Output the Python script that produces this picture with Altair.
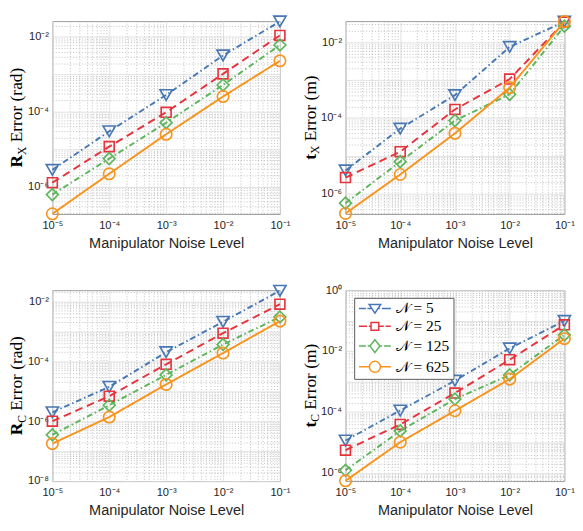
import altair as alt
import pandas as pd

# ---------------- data ----------------
noise = [1e-5, 1e-4, 1e-3, 1e-2, 1e-1]
N_labels = ["5", "25", "125", "625"]

rx_N5 = [2.8e-6, 3.0e-5, 2.8e-4, 3.2e-3, 2.6e-2]
rx_N25 = [1.27e-6, 1.17e-5, 9.7e-5, 1.03e-3, 1.1e-2]
rx_N125 = [6.1e-7, 5.6e-6, 5.1e-5, 5.2e-4, 6.1e-3]
rx_N625 = [1.87e-7, 2.2e-6, 2.5e-5, 2.55e-4, 2.3e-3]

tx_N5 = [4.1e-6, 5.2e-5, 4.0e-4, 7.5e-3, 3.5e-2]
tx_N25 = [2.65e-6, 1.28e-5, 1.67e-4, 1.06e-3, 3.4e-2]
tx_N125 = [5.6e-7, 7.0e-6, 8.5e-5, 4.2e-4, 2.65e-2]
tx_N625 = [3.0e-7, 3.2e-6, 3.9e-5, 6.3e-4, 3.5e-2]

rc_N5 = [1.98e-6, 1.4e-5, 2.0e-4, 2.07e-3, 2.25e-2]
rc_N25 = [1.0e-6, 6.8e-6, 7.9e-5, 8.6e-4, 8.0e-3]
rc_N125 = [3.5e-7, 3.4e-6, 3.5e-5, 3.6e-4, 3.0e-3]
rc_N625 = [1.78e-7, 1.37e-6, 1.68e-5, 1.87e-4, 2.18e-3]

tc_N5 = [1.16e-5, 1.12e-4, 1.07e-3, 1.23e-2, 9.8e-2]
tc_N25 = [5.6e-6, 3.9e-5, 4.2e-4, 5.2e-3, 7.3e-2]
tc_N125 = [1.22e-6, 2.4e-5, 2.65e-4, 1.65e-3, 3.4e-2]
tc_N625 = [5.5e-7, 1.02e-5, 1.1e-4, 1.2e-3, 2.56e-2]

# ---------------- style ----------------
COLORS = ["#4878B4", "#E5343D", "#5DB55A", "#F7941E"]
DASHES = [[6, 3, 1.5, 3], [8, 5], [6, 3, 1.5, 3], [1, 0]]
SHAPES = ["triangle-down", "square", "diamond", "circle"]
SIZES = [160, 105, 150, 140]

# legend symbols: line sample + marker (unit = sqrt(size)/2 = 6px)
LEG_PATHS = [
    "M-1,0H0.2M0.45,0H1.22M2.28,0H2.6M2.95,0H4.5M0.75,-0.7H2.75L1.75,0.8Z",
    "M-1,0H0.4M0.7,0H1.08M2.42,0H3.3M3.6,0H4.5M1.08,-0.67H2.42V0.67H1.08Z",
    "M-1,0H0.2M0.5,0H0.9M2.6,0H3.0M3.3,0H4.5M1.75,-1.1L2.6,0L1.75,1.1L0.9,0Z",
    "M-1,0H0.8M2.7,0H4.5M0.8,0A0.95,0.95 0 1,0 2.7,0A0.95,0.95 0 1,0 0.8,0Z",
]

SANS = "Liberation Sans"
SERIF = "Liberation Serif"
TXT = "#262626"

MAJ = "abs(log(datum.value)/LN10 - round(log(datum.value)/LN10)) < 0.01"
EXP = "round(log(datum.value)/LN10)"
SUP = (f"'10' + ({EXP} < 0 ? '⁻' : '') + "
       f"substring('⁰¹²³⁴⁵⁶⁷⁸⁹', abs({EXP}), abs({EXP}) + 1)")
XLAB = f"({MAJ}) ? {SUP} : ''"
YLAB = f"(({MAJ}) && ({EXP} % 2 == 0)) ? {SUP} : ''"

GRID_DASH = {"condition": {"test": MAJ, "value": [1, 0]}, "value": [1, 2]}
GRID_COLOR = {"condition": {"test": MAJ, "value": "#dddddd"}, "value": "#bdbdbd"}


def log_grid(lo, hi):
    vals = []
    for k in range(-9, 2):
        for m in range(1, 10):
            v = float(f"{m}e{k}")
            if lo * 0.999 <= v <= hi * 1.001:
                vals.append(v)
    return vals


def make_df(series):
    rows = []
    for lab, vals in zip(N_labels, series):
        for x, v in zip(noise, vals):
            rows.append({"noise": x, "N": lab, "err": v})
    return pd.DataFrame(rows)


cscale = alt.Scale(domain=N_labels, range=COLORS)

LEG = dict(
    title=None, orient="none", legendX=9, legendY=8,
    symbolSize=144, symbolStrokeWidth=1.5, labelFont=SERIF,
    labelFontSize=16, labelColor="black", labelOffset=24,
    labelExpr="'𝒩 = ' + datum.label", fillColor="white",
    strokeColor="#555555", padding=3, rowPadding=2.5, symbolOffset=0,
)


def panel(series, ydom, main, sub, rest, w_main, w_sub, w_rest, W, H, legend=False):
    df = make_df(series)
    xenc = alt.X(
        "noise:Q",
        scale=alt.Scale(type="log", domain=[1e-5, 1e-1], nice=False),
        axis=alt.Axis(
            values=log_grid(1e-5, 1e-1), labelExpr=XLAB, labelOverlap=False,
            labelBound=False, labelFlush=False, ticks=False, domain=False,
            gridDash=GRID_DASH, gridColor=GRID_COLOR, labelFont=SANS,
            labelFontSize=11.5, labelColor=TXT, labelPadding=6,
            title="Manipulator Noise Level", titleFont=SANS, titleFontSize=15,
            titleFontWeight="normal", titleColor=TXT, titlePadding=5,
        ),
    )
    yenc = alt.Y(
        "err:Q",
        scale=alt.Scale(type="log", domain=ydom, nice=False),
        axis=alt.Axis(
            values=log_grid(*ydom), labelExpr=YLAB, labelOverlap=False,
            labelBound=False, labelFlush=False, ticks=False, domain=False,
            gridDash=GRID_DASH, gridColor=GRID_COLOR, labelFont=SANS,
            labelFontSize=11.5, labelColor=TXT, labelPadding=4, title=None,
        ),
    )
    base = alt.Chart(df)
    layers = []
    if legend:
        layers.append(
            base.transform_filter("false")
            .mark_point(filled=False, strokeWidth=1.5, opacity=1)
            .encode(
                x=xenc, y=yenc,
                color=alt.Color("N:N", scale=cscale, legend=alt.Legend(**LEG)),
                shape=alt.Shape("N:N", scale=alt.Scale(domain=N_labels, range=LEG_PATHS),
                                legend=alt.Legend(**LEG)),
            )
        )
    for lab, dash, shp, sz in zip(N_labels, DASHES, SHAPES, SIZES):
        sub_base = base.transform_filter(alt.datum.N == lab)
        layers.append(
            sub_base.mark_line(strokeWidth=2, strokeDash=dash).encode(
                x=xenc, y=yenc,
                color=alt.Color("N:N", scale=cscale, legend=None),
            )
        )
        layers.append(
            sub_base.mark_point(shape=shp, size=sz, filled=False, strokeWidth=1.7, opacity=1)
            .encode(x=xenc, y=yenc,
                    color=alt.Color("N:N", scale=cscale, legend=None))
        )
    # y title built from pieces (bold main letter, subscript, rest)
    tdf = pd.DataFrame({"main": [main], "sub": [sub], "rest": [rest]})
    tb = alt.Chart(tdf)
    space = 4.5
    start = -(w_main + w_sub + space + w_rest) / 2
    common = dict(angle=270, align="left", baseline="alphabetic", color="black")
    layers.append(tb.mark_text(font=SERIF, fontSize=18, fontWeight="bold", dx=start, **common)
                  .encode(text="main:N", x=alt.value(-31), y=alt.value(H / 2)))
    layers.append(tb.mark_text(font=SERIF, fontSize=12, dx=start + w_main, dy=4, **common)
                  .encode(text="sub:N", x=alt.value(-31), y=alt.value(H / 2)))
    layers.append(tb.mark_text(font=SERIF, fontSize=18, dx=start + w_main + w_sub + space, **common)
                  .encode(text="rest:N", x=alt.value(-31), y=alt.value(H / 2)))
    return alt.layer(*layers).properties(width=W, height=H)


p1 = panel([rx_N5, rx_N25, rx_N125, rx_N625], [1.85e-7, 2.65e-2],
           "R", "X", "Error (rad)", 13.0, 8.7, 77.6, 236, 200)
p2 = panel([tx_N5, tx_N25, tx_N125, tx_N625], [2.9e-7, 3.6e-2],
           "t", "X", "Error (m)", 6.0, 8.7, 68.5, 227, 200)
p3 = panel([rc_N5, rc_N25, rc_N125, rc_N625], [1e-8, 2.35e-2],
           "R", "C", "Error (rad)", 13.0, 8.0, 77.6, 236, 198)
p4 = panel([tc_N5, tc_N25, tc_N125, tc_N625], [5.4e-7, 1.0],
           "t", "C", "Error (m)", 6.0, 8.0, 68.5, 227, 198, legend=True)

ind = dict(color="independent", shape="independent")
row1 = alt.hconcat(p1, p2, spacing=11).resolve_scale(**ind)
row2 = alt.hconcat(p3, p4, spacing=11).resolve_scale(**ind)
chart = (
    alt.vconcat(row1, row2, spacing=32)
    .resolve_scale(**ind)
    .properties(padding={"left": 0, "top": -6, "right": 0, "bottom": 0},
                background="white")
    .configure_view(stroke="#9a9a9a", strokeWidth=1)
)

chart.save("out.html", embed_options={"renderer": "svg", "actions": False})
